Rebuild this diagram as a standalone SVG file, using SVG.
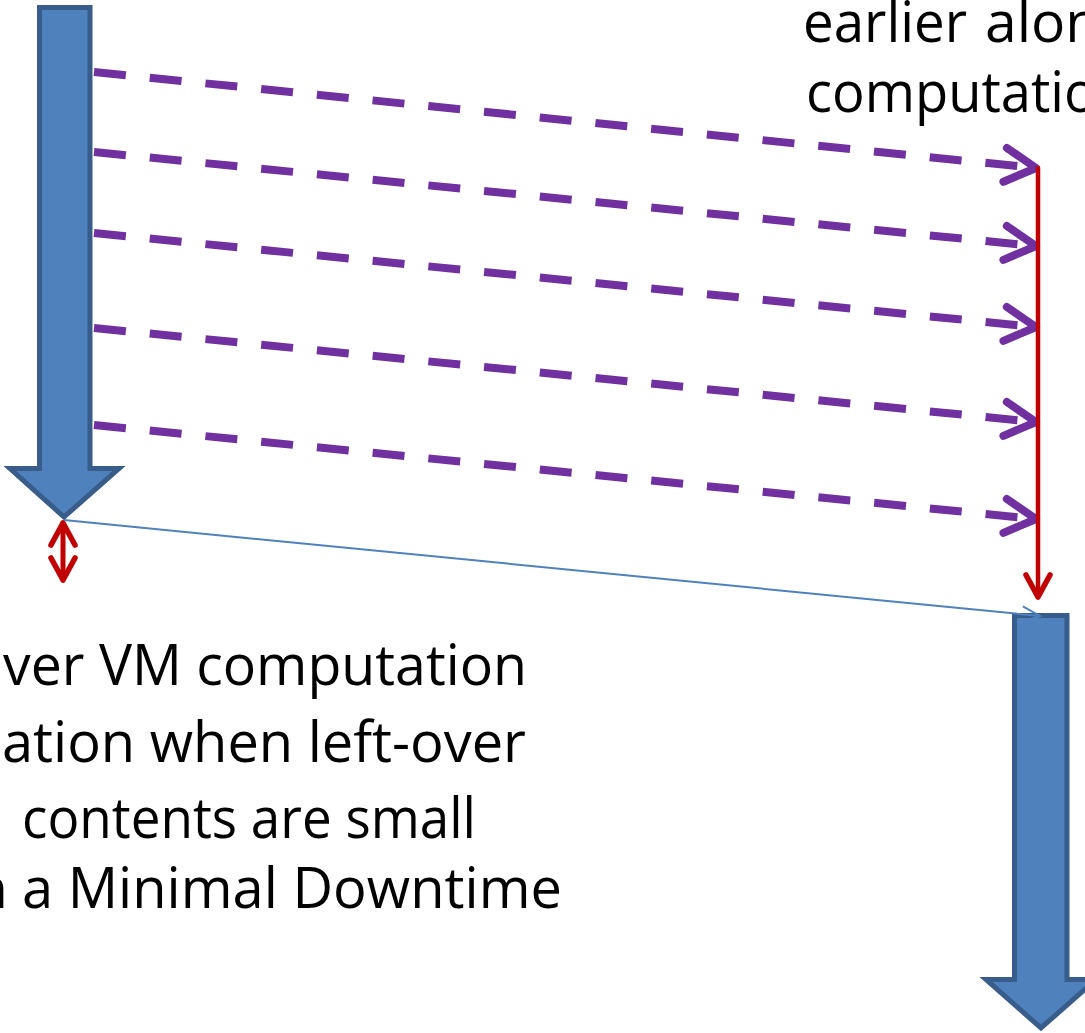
<svg xmlns="http://www.w3.org/2000/svg" width="1085" height="1033" viewBox="0 0 1085 1033">
  <style>
    .block { fill: #4F81BD; stroke: #385D8A; stroke-width: 5; stroke-linejoin: miter; stroke-miterlimit: 10; }
    .label { font-family: "Open Sans", "Liberation Sans", sans-serif; font-size: 57px; fill: #000; }
    .push { fill: none; stroke: #7030A0; stroke-width: 8; stroke-dasharray: 32 24; }
    .timeline { fill: none; stroke: #C00000; stroke-width: 5; stroke-linecap: round; }
    .handoff { fill: none; stroke: #4F81BD; stroke-width: 2; }
  </style>
  <defs>
    <marker id="openPurple" markerUnits="userSpaceOnUse" viewBox="-44 -24 52 48" markerWidth="52" markerHeight="48" refX="0" refY="0" orient="auto" overflow="visible">
      <path d="M -31 -17 L 0 0 L -31 17" fill="none" stroke="#7030A0" stroke-width="8" stroke-linecap="round" stroke-linejoin="round"/>
    </marker>
    <marker id="openRed" markerUnits="userSpaceOnUse" viewBox="-30 -18 36 36" markerWidth="36" markerHeight="36" refX="0" refY="0" orient="auto-start-reverse" overflow="visible">
      <path d="M -22 -12 L 0 0 L -22 12" fill="none" stroke="#C00000" stroke-width="5.5" stroke-linecap="round" stroke-linejoin="round"/>
    </marker>
    <marker id="openBlue" markerUnits="userSpaceOnUse" viewBox="-24 -12 28 24" markerWidth="28" markerHeight="24" refX="0" refY="0" orient="auto" overflow="visible">
      <path d="M -18 -8 L 0 0 L -18 8" fill="none" stroke="#4F81BD" stroke-width="2"/>
    </marker>
  </defs>

  <!-- source host timeline -->
  <g id="source-vm">
    <polygon class="block" points="39.5,7.5 90,7.5 90,468.5 119,468.5 64,517 10,468.5 39.5,468.5"/>
  </g>

  <!-- destination host timeline -->
  <g id="destination-vm">
    <polygon class="block" points="1014.5,615.5 1067,615.5 1067,979.5 1096,979.5 1041,1028 986,979.5 1014.5,979.5"/>
  </g>

  <!-- captions -->
  <g id="caption-top">
    <text class="label" y="42"><tspan x="803" textLength="164" lengthAdjust="spacingAndGlyphs">earlier</tspan><tspan x="985">along</tspan></text>
    <text class="label" x="806" y="112" textLength="324" lengthAdjust="spacingAndGlyphs">computation</text>
  </g>
  <g id="caption-bottom">
    <text class="label" x="3" y="685" textLength="524" lengthAdjust="spacingAndGlyphs">ver VM computation</text>
    <text class="label" x="2" y="762" textLength="524" lengthAdjust="spacingAndGlyphs">ation when left-over</text>
    <text class="label" x="22" y="838" textLength="454" lengthAdjust="spacingAndGlyphs">contents are small</text>
    <text class="label" x="8" y="908" text-anchor="end">n</text>
    <text class="label" x="22" y="908" textLength="540" lengthAdjust="spacingAndGlyphs">a Minimal Downtime</text>
  </g>

  <g id="connectors">
    <!-- pre-copy rounds -->
    <line class="push" x1="94" y1="72" x2="1036" y2="168" marker-end="url(#openPurple)"/>
    <line class="push" x1="94" y1="152" x2="1036" y2="246" marker-end="url(#openPurple)"/>
    <line class="push" x1="94" y1="233" x2="1036" y2="327" marker-end="url(#openPurple)"/>
    <line class="push" x1="94" y1="328" x2="1036" y2="422" marker-end="url(#openPurple)"/>
    <line class="push" x1="94" y1="425" x2="1036" y2="519" marker-end="url(#openPurple)"/>
    <!-- destination copy progress -->
    <line class="timeline" x1="1038" y1="168" x2="1038" y2="597" marker-end="url(#openRed)" style="stroke-width:4.5"/>
    <!-- downtime gap -->
    <line class="timeline" x1="63" y1="523" x2="63" y2="580" marker-start="url(#openRed)" marker-end="url(#openRed)"/>
    <!-- switchover -->
    <line class="handoff" x1="64" y1="520" x2="1040" y2="616" marker-end="url(#openBlue)"/>
  </g>
</svg>
